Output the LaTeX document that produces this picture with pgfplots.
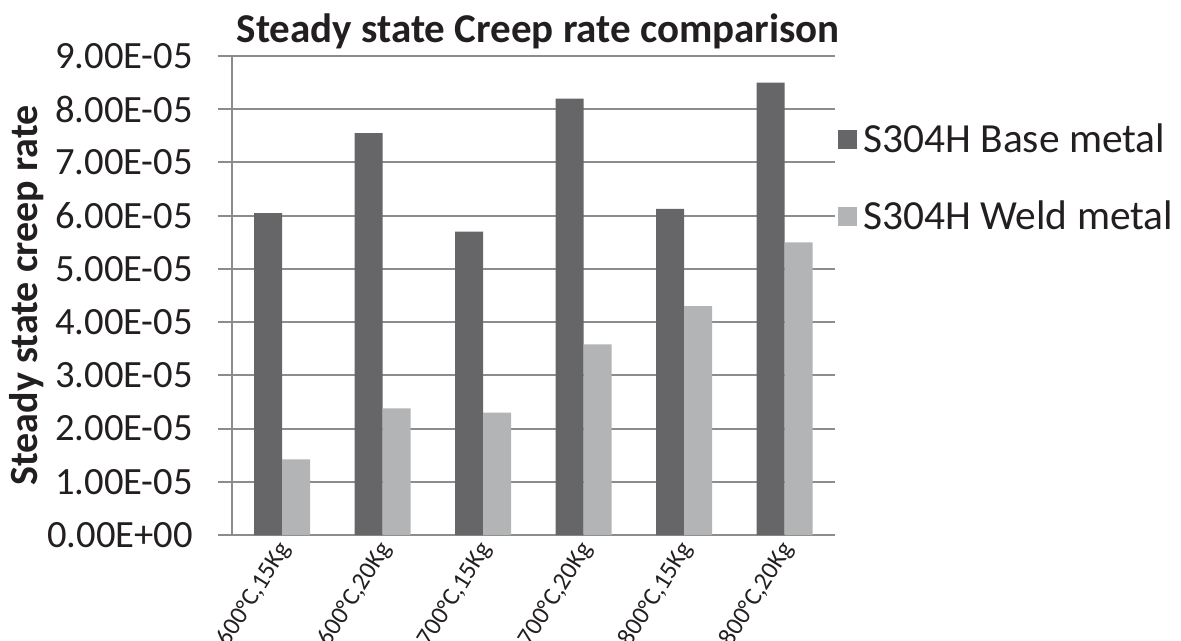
\documentclass[border=0pt]{standalone}
\usepackage{fontspec}
\setmainfont{Carlito}
\usepackage{pgfplots}
\pgfplotsset{compat=1.18}

\definecolor{basegray}{RGB}{102,102,104}
\definecolor{weldgray}{RGB}{179,180,182}
\definecolor{gridgray}{RGB}{140,140,140}
\definecolor{inkgray}{RGB}{35,31,32}

\begin{document}
\begin{tikzpicture}
\useasboundingbox (-116pt,-53pt) rectangle (474.5pt,267.5pt);
\clip (-116pt,-53pt) rectangle (474.5pt,267.5pt);
\begin{axis}[
  at={(0,0)}, anchor=south west,
  scale only axis,
  width=301.5pt, height=239.5pt,
  ybar=0pt, bar width=14pt,
  xmin=-0.5, xmax=5.5,
  ymin=0, ymax=9e-5,
  xtick=data,
  xticklabels={{600°C,15Kg},{600°C,20Kg},{700°C,15Kg},{700°C,20Kg},{800°C,15Kg},{800°C,20Kg}},
  ytick={0,1e-5,2e-5,3e-5,4e-5,5e-5,6e-5,7e-5,8e-5,9e-5},
  yticklabels={0.00E+00,1.00E-05,2.00E-05,3.00E-05,4.00E-05,5.00E-05,6.00E-05,7.00E-05,8.00E-05,9.00E-05},
  scaled y ticks=false,
  axis x line*=bottom, axis y line*=left,
  axis line style={draw=gridgray, line width=1pt},
  ymajorgrids,
  grid style={draw=gridgray, line width=1pt},
  tick align=outside,
  major tick length=7pt,
  ytick style={draw=gridgray, line width=1pt},
  xtick style={draw=none},
  yticklabel style={font=\fontsize{19.3}{21}\selectfont, text=inkgray, xshift=-9pt},
  xticklabel style={font=\fontsize{12.6}{15}\selectfont, text=inkgray,
    xshift=3.5pt, yshift=5pt, rotate=58, anchor=east},
  title={Steady state Creep rate comparison},
  title style={font=\bfseries\fontsize{20.5}{23}\selectfont, text=inkgray,
    at={(axis description cs:0.508,1.029)}, anchor=base, yshift=-6pt},
  ylabel={Steady state creep rate},
  every axis y label/.style={at={(axis description cs:-0.34,0.5)}, rotate=90, anchor=center,
    font=\bfseries\fontsize{20}{22}\selectfont, text=inkgray},
  legend style={at={(axis description cs:1.005,0.745)}, anchor=west,
    draw=none, fill=none, font=\fontsize{20.7}{23}\selectfont, text=inkgray,
    row sep=18.5pt, inner xsep=0pt,
    nodes={inner xsep=3pt}},
  legend cell align=left,
  legend image code/.code={\fill[#1,draw=none] (0pt,-4.75pt) rectangle (9.5pt,4.75pt);},
]
\addplot[fill=basegray, draw=none] coordinates {
  (0,6.05e-5) (1,7.55e-5) (2,5.70e-5) (3,8.20e-5) (4,6.13e-5) (5,8.50e-5)};
\addplot[fill=weldgray, draw=none] coordinates {
  (0,1.42e-5) (1,2.38e-5) (2,2.30e-5) (3,3.58e-5) (4,4.30e-5) (5,5.50e-5)};
\legend{S304H Base metal, S304H Weld metal}
\end{axis}
\end{tikzpicture}
\end{document}
